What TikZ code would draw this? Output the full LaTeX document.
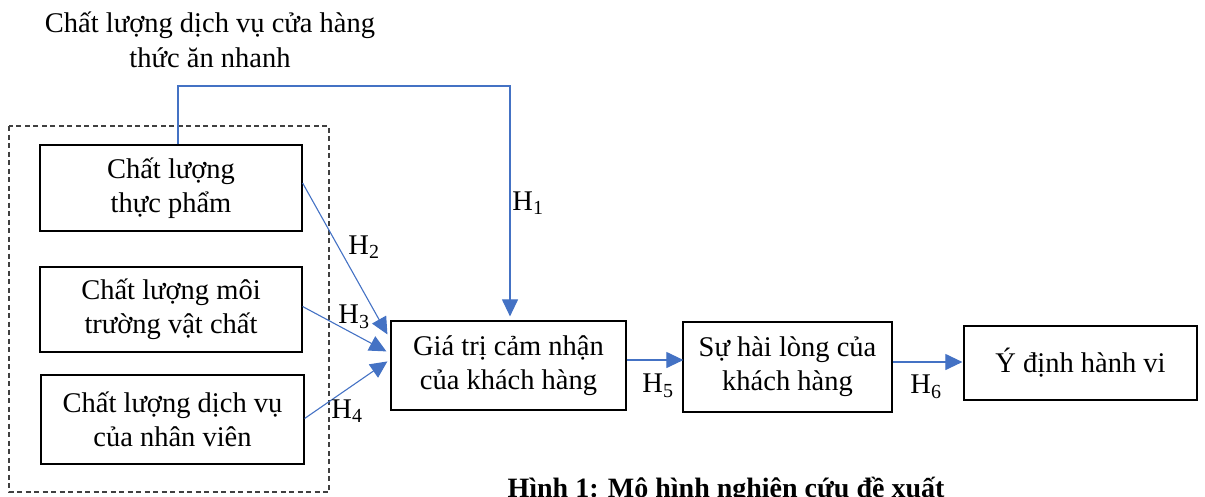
\documentclass[tikz,border=0pt]{standalone}
\usepackage{fontspec}
\setmainfont{Liberation Serif}
\usetikzlibrary{arrows.meta,calc}
\definecolor{arrblue}{HTML}{4472C4}
\definecolor{dashgray}{HTML}{404040}
\begin{document}
\begin{tikzpicture}[x=1pt,y=-1pt,
  every node/.style={font=\fontsize{28.5}{34}\selectfont, inner sep=0pt},
  box/.style={draw=black, line width=1.2pt, align=center},
  conn/.style={draw=arrblue, line width=1.1pt, -{Triangle[length=17pt,width=16pt]}},
  hlabel/.style={anchor=center}]
\useasboundingbox (0,0) rectangle (1205,496);
% dashed group
\draw[dashgray, line width=1.1pt, dash pattern=on 5pt off 3.5pt] (9,126) rectangle (329,492);
% title
\node[align=center, font=\fontsize{28.5}{35}\selectfont] (title) at (210,40) {Chất lượng dịch vụ cửa hàng\\thức ăn nhanh};
% boxes
\node[box, minimum width=262pt, minimum height=86pt] (b1) at (171,188) {Chất lượng\\thực phẩm};
\node[box, minimum width=262pt, minimum height=85pt] (b2) at (171,309.5) {Chất lượng môi\\trường vật chất};
\node[box, minimum width=263pt, minimum height=89pt] (b3) at (172.5,419.5) {Chất lượng dịch vụ\\của nhân viên};
\node[box, minimum width=235pt, minimum height=89pt] (gia) at (508.5,365.5) {Giá trị cảm nhận\\của khách hàng};
\node[box, minimum width=209pt, minimum height=90pt] (hl) at (787.5,367) {Sự hài lòng của\\khách hàng};
\node[box, minimum width=233pt, minimum height=74pt] (yd) at (1080.5,363) {Ý định hành vi};
% connector coordinates
\coordinate (c2) at (510,86);
\coordinate (e2) at ($(gia.north west)+(-3,14)$);
\coordinate (e3) at ($(gia.north west)+(-4,31)$);
\coordinate (e4) at ($(gia.north west)+(-3,41)$);
% connectors
\draw[conn] ($(b1.north)+(7,0)$) |- (c2) -- ($(gia.north -| c2)+(0,-4)$);
\draw[conn] ($(b1.east)+(0,-5)$) -- (e2);
\draw[conn] ($(b2.east)+(0,-3)$) -- (e3);
\draw[conn] ($(b3.east)+(0,-1)$) -- (e4);
\draw[conn] (gia.east |- 0,360) -- ($(hl.west |- 0,360)+(1,0)$);
\draw[conn] (hl.east |- 0,362) -- ($(yd.west |- 0,362)+(-1,0)$);
% labels
\node[hlabel] (h1) at (528,203) {H\textsubscript{1}};
\node[hlabel] (h2) at (364,247) {H\textsubscript{2}};
\node[hlabel] (h3) at (354,317) {H\textsubscript{3}};
\node[hlabel] (h4) at (347,411) {H\textsubscript{4}};
\node[hlabel] (h5) at (658,386) {H\textsubscript{5}};
\node[hlabel] (h6) at (926,387) {H\textsubscript{6}};
% caption
\node[anchor=base, font=\fontsize{28}{30}\selectfont\bfseries] (cap) at (726,497) {Hình 1: Mô hình nghiên cứu đề xuất};
\end{tikzpicture}
\end{document}
